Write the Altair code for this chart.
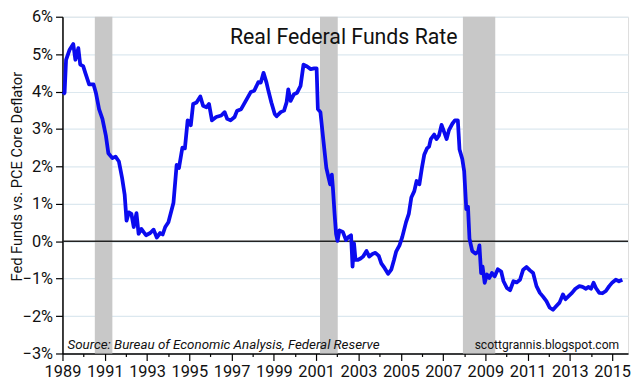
import altair as alt
import pandas as pd

years = [1989.04, 1989.10, 1989.17, 1989.33, 1989.51, 1989.61, 1989.75, 1989.84, 1989.98,
         1990.08, 1990.26, 1990.47, 1990.58, 1990.73, 1990.89, 1991.05, 1991.17, 1991.36,
         1991.51, 1991.67, 1991.82, 1991.94, 1992.03, 1992.14, 1992.26, 1992.37, 1992.50,
         1992.60, 1992.73, 1992.95, 1993.15, 1993.31, 1993.46, 1993.62, 1993.74, 1993.86,
         1994.01, 1994.25, 1994.40, 1994.51, 1994.67, 1994.79, 1994.92, 1995.03, 1995.07,
         1995.18, 1995.34, 1995.52, 1995.65, 1995.81, 1995.93, 1996.07, 1996.27, 1996.51,
         1996.67, 1996.79, 1996.95, 1997.14, 1997.26, 1997.45, 1997.63, 1997.91, 1998.07,
         1998.26, 1998.38, 1998.51, 1998.65, 1998.74, 1998.88, 1999.04, 1999.13, 1999.32,
         1999.48, 1999.60, 1999.68, 1999.79, 1999.95, 2000.10, 2000.26, 2000.40, 2000.57,
         2000.74, 2000.91, 2001.02, 2001.08, 2001.20, 2001.33, 2001.48, 2001.59, 2001.66,
         2001.74, 2001.79, 2001.87, 2001.94, 2002.01, 2002.10, 2002.26, 2002.41, 2002.52,
         2002.65, 2002.72, 2002.79, 2002.86, 2002.96, 2003.10, 2003.22, 2003.38, 2003.51,
         2003.66, 2003.80, 2003.96, 2004.08, 2004.24, 2004.40, 2004.55, 2004.68, 2004.78,
         2004.94, 2005.07, 2005.25, 2005.38, 2005.50, 2005.64, 2005.75, 2005.88, 2006.00,
         2006.11, 2006.24, 2006.34, 2006.42, 2006.58, 2006.69, 2006.81, 2006.93, 2007.05,
         2007.17, 2007.28, 2007.44, 2007.56, 2007.70, 2007.78, 2007.91, 2008.00, 2008.10,
         2008.18, 2008.25, 2008.38, 2008.53, 2008.66, 2008.72, 2008.80, 2008.87, 2008.97,
         2009.08, 2009.19, 2009.31, 2009.44, 2009.59, 2009.75, 2009.86, 2010.02, 2010.17,
         2010.33, 2010.48, 2010.64, 2010.79, 2010.95, 2011.11, 2011.26, 2011.42, 2011.58,
         2011.73, 2011.89, 2012.04, 2012.20, 2012.36, 2012.51, 2012.67, 2012.79, 2012.95,
         2013.10, 2013.26, 2013.45, 2013.60, 2013.76, 2013.87, 2014.00, 2014.12, 2014.23,
         2014.39, 2014.54, 2014.70, 2014.86, 2015.01, 2015.17, 2015.32, 2015.48]

rate = [3.92, 3.97, 4.85, 5.11, 5.27, 4.85, 5.16, 4.72, 4.68,
        4.50, 4.19, 4.19, 3.97, 3.53, 3.27, 2.83, 2.35, 2.22,
        2.26, 2.13, 1.69, 1.25, 0.55, 0.77, 0.73, 0.38, 0.75,
        0.20, 0.33, 0.16, 0.22, 0.31, 0.10, 0.22, 0.18, 0.38,
        0.51, 1.03, 2.04, 1.96, 2.50, 2.48, 3.23, 3.20, 3.10,
        3.67, 3.71, 3.87, 3.62, 3.58, 3.67, 3.23, 3.32, 3.36,
        3.45, 3.27, 3.23, 3.32, 3.49, 3.53, 3.71, 3.99, 4.02,
        4.25, 4.24, 4.50, 4.24, 4.02, 3.71, 3.40, 3.34, 3.45,
        3.49, 3.71, 4.06, 3.75, 3.93, 3.97, 4.15, 4.72, 4.67,
        4.60, 4.62, 4.62, 3.53, 3.45, 2.75, 1.96, 1.69, 1.52,
        1.78, 1.43, 0.73, 0.20, 0.01, 0.29, 0.25, 0.03, 0.11,
        0.16, -0.68, -0.06, -0.50, -0.50, -0.46, -0.41, -0.26, -0.41,
        -0.34, -0.31, -0.39, -0.59, -0.72, -0.87, -0.76, -0.50, -0.28,
        -0.11, 0.11, 0.51, 0.73, 1.17, 1.34, 1.61, 1.52, 1.96,
        2.31, 2.48, 2.53, 2.73, 2.85, 2.73, 2.83, 3.11, 2.92,
        2.73, 2.97, 3.14, 3.23, 3.23, 2.45, 2.20, 1.87, 0.86,
        0.92, 0.07, -0.26, -0.33, -0.28, -0.11, -0.85, -0.68, -1.11,
        -0.89, -0.98, -0.85, -0.94, -0.75, -0.81, -1.07, -1.25, -1.31,
        -1.07, -1.10, -1.03, -0.76, -0.69, -0.78, -0.85, -1.20, -1.38,
        -1.48, -1.60, -1.77, -1.83, -1.73, -1.64, -1.42, -1.55, -1.46,
        -1.38, -1.27, -1.20, -1.22, -1.27, -1.22, -1.27, -1.11, -1.25,
        -1.38, -1.39, -1.33, -1.20, -1.10, -1.03, -1.07, -1.03]

rec_start = [1990.53, 2001.18, 2007.94]
rec_end = [1991.36, 2002.02, 2009.47]

year_ticks = list(range(1989, 2016))
pct_ticks = [-3, -2, -1, 0, 1, 2, 3, 4, 5, 6]

title_text = "Real Federal Funds Rate"
source_text = "Source:  Bureau of Economic Analysis, Federal Reserve"
blog_text = "scottgrannis.blogspot.com"
y_title = "Fed Funds vs. PCE Core Deflator"

FONT = "Roboto"
W, H = 571, 340

df = pd.DataFrame({"year": years, "rate": rate})
rec = pd.DataFrame({"start": rec_start, "end": rec_end})

xscale = alt.Scale(domain=[1989, 2015.75], nice=False, zero=False)
yscale = alt.Scale(domain=[-3, 6], nice=False, zero=False)

xaxis = alt.Axis(values=year_ticks, labelExpr="datum.value % 2 == 1 ? format(datum.value, 'd') : ''",
                 tickSize={"expr": "datum.value % 2 == 1 ? 7 : 3"},
                 grid=False, domainColor="black", domainWidth=1.5, tickColor="black", tickWidth=1.2,
                 labelFont=FONT, labelFontSize=16.5, labelColor="#111", labelPadding=3,
                 labelOverlap=False, labelFlush=False, title=None)
yaxis = alt.Axis(values=pct_ticks, labelExpr="format(datum.value, 'd') + '%'",
                 grid=True, gridColor="#dce8ef", gridWidth=1.2,
                 domainColor="black", domainWidth=1.5, tickColor="black", tickWidth=1.2, tickSize=7,
                 labelFont=FONT, labelFontSize=16.5, labelColor="#111", labelPadding=3,
                 labelOverlap=False, labelFlush=False,
                 title=y_title, titleFont=FONT, titleFontSize=14.8, titleFontWeight="normal",
                 titleColor="#111", titleX=-45, titleY=161, titleBaseline="middle", titleAngle=270)

line = alt.Chart(df).mark_line(color="#0b0bef", strokeWidth=3.8, strokeJoin="round").encode(
    x=alt.X("year:Q", scale=xscale, axis=xaxis),
    y=alt.Y("rate:Q", scale=yscale, axis=yaxis))

bands = alt.Chart(rec).mark_rect(color="#c8c8c8").encode(
    x=alt.X("start:Q", scale=xscale, axis=xaxis), x2="end:Q",
    y=alt.Y(datum=-3, scale=yscale, axis=yaxis), y2=alt.datum(6))

zero = alt.Chart(pd.DataFrame({"z": [0]})).mark_rule(color="#222", strokeWidth=1.5).encode(
    y=alt.Y("z:Q", scale=yscale, axis=yaxis))

title = alt.Chart(pd.DataFrame({"t": [title_text]})).mark_text(
    font=FONT, fontSize=21.5, color="#111", align="center", baseline="alphabetic").encode(
    text="t:N", x=alt.value(284), y=alt.value(28))

source = alt.Chart(pd.DataFrame({"t": [source_text]})).mark_text(
    font=FONT, fontSize=13.5, fontStyle="italic", color="#111", align="left", baseline="alphabetic").encode(
    text="t:N", x=alt.value(5), y=alt.value(335))

blog = alt.Chart(pd.DataFrame({"t": [blog_text]})).mark_text(
    font=FONT, fontSize=12.2, color="#111", align="right", baseline="alphabetic").encode(
    text="t:N", x=alt.value(562), y=alt.value(335))

chart = alt.layer(bands, zero, line, title, source, blog).properties(
    width=W, height=H,
    autosize=alt.AutoSizeParams(type="none"),
    padding={"left": 55, "top": 7, "right": 4, "bottom": 30},
).configure_view(stroke="#8a8a8a", strokeWidth=1.5).configure(background="white")

chart.save("out.html", embed_options={"renderer": "svg", "actions": False})
